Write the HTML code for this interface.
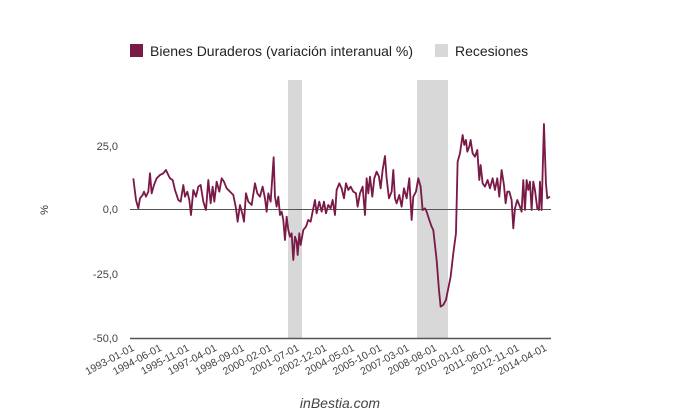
<!DOCTYPE html>
<html><head><meta charset="utf-8"><style>
html,body{margin:0;padding:0;background:#fff;}
svg{display:block;font-family:"Liberation Sans",sans-serif;}
</style></head><body>
<svg width="680" height="420" viewBox="0 0 680 420">
<rect x="130" y="44" width="13" height="13" fill="#7a1a47"/>
<text x="150" y="56" font-size="14" fill="#222">Bienes Duraderos (variación interanual %)</text>
<rect x="435" y="44" width="13" height="13" fill="#d8d8d8"/>
<text x="455" y="56" font-size="14" fill="#222">Recesiones</text>
<rect x="288" y="80" width="14" height="259" fill="#d8d8d8"/>
<rect x="417" y="80" width="31" height="259" fill="#d8d8d8"/>
<line x1="130" y1="209.5" x2="551" y2="209.5" stroke="#555" stroke-width="1"/>
<line x1="130" y1="338.5" x2="551" y2="338.5" stroke="#555" stroke-width="1.5"/>
<g font-size="11" fill="#444" text-anchor="end">
<text x="118" y="150">25,0</text>
<text x="118" y="213">0,0</text>
<text x="118" y="278">-25,0</text>
<text x="118" y="342">-50,0</text>
</g>
<text transform="translate(48,210) rotate(-90)" font-size="11" fill="#333" text-anchor="middle">%</text>
<g transform="translate(60,120) scale(0.3333)">
<polyline fill="none" stroke="#7a1a47" stroke-width="5.5" stroke-linejoin="round" points="220,175 228,240 235,265 240,235 248,225 252,215 258,230 265,215 270,160 275,220 282,195 290,175 300,165 310,160 318,150 325,165 330,175 338,180 345,210 355,240 362,245 370,195 375,230 382,215 388,240 393,285 400,210 408,230 415,200 422,195 430,245 438,270 445,180 452,250 458,200 463,245 470,185 478,215 485,175 492,185 500,205 510,215 520,225 528,265 533,305 540,255 548,285 552,305 558,220 565,245 575,255 585,190 592,220 600,230 608,200 615,235 620,275 625,220 632,245 641,112 645,230 650,260 655,230 660,285 665,275 670,300 675,360 680,290 685,330 690,350 695,340 700,420 705,350 710,365 713,405 718,340 722,375 730,330 738,320 745,300 752,305 760,265 765,240 770,280 778,245 785,275 792,245 798,280 805,255 812,265 818,240 825,285 830,210 838,190 845,205 852,235 858,190 865,210 872,200 880,215 888,220 893,260 900,220 908,200 915,285 920,175 925,220 930,170 937,230 943,175 950,155 957,170 962,205 968,150 975,108 980,175 987,235 995,215 1000,150 1005,235 1010,250 1018,225 1025,260 1032,205 1040,235 1048,175 1055,300 1060,230 1068,215 1075,175 1082,200 1088,270 1095,265 1100,275 1108,300 1115,320 1120,330 1130,420 1137,510 1142,560 1150,555 1158,540 1165,505 1172,470 1180,400 1188,340 1193,125 1200,100 1208,45 1213,75 1218,60 1222,95 1228,80 1232,60 1238,100 1245,110 1252,90 1258,180 1262,135 1268,190 1275,200 1283,180 1290,205 1298,175 1305,210 1312,175 1318,230 1325,150 1332,195 1337,250 1342,215 1348,215 1355,240 1360,325 1365,265 1372,240 1380,260 1385,275 1390,180 1395,270 1400,180 1405,210 1410,185 1415,270 1420,185 1425,210 1432,265 1437,270 1440,185 1445,270 1452,12 1458,190 1462,235 1470,230"/>
</g>
<g font-size="10.5" fill="#444" text-anchor="end">
<text transform="translate(135,350) rotate(-28)">1993-01-01</text>
<text transform="translate(162.5,350) rotate(-28)">1994-06-01</text>
<text transform="translate(190,350) rotate(-28)">1995-11-01</text>
<text transform="translate(217.5,350) rotate(-28)">1997-04-01</text>
<text transform="translate(245,350) rotate(-28)">1998-09-01</text>
<text transform="translate(272.5,350) rotate(-28)">2000-02-01</text>
<text transform="translate(300,350) rotate(-28)">2001-07-01</text>
<text transform="translate(327.5,350) rotate(-28)">2002-12-01</text>
<text transform="translate(355,350) rotate(-28)">2004-05-01</text>
<text transform="translate(382.5,350) rotate(-28)">2005-10-01</text>
<text transform="translate(410,350) rotate(-28)">2007-03-01</text>
<text transform="translate(437.5,350) rotate(-28)">2008-08-01</text>
<text transform="translate(465,350) rotate(-28)">2010-01-01</text>
<text transform="translate(492.5,350) rotate(-28)">2011-06-01</text>
<text transform="translate(520,350) rotate(-28)">2012-11-01</text>
<text transform="translate(547.5,350) rotate(-28)">2014-04-01</text>
</g>
<text x="340" y="408" font-size="14" font-style="italic" fill="#444" text-anchor="middle">inBestia.com</text>
</svg>
</body></html>
